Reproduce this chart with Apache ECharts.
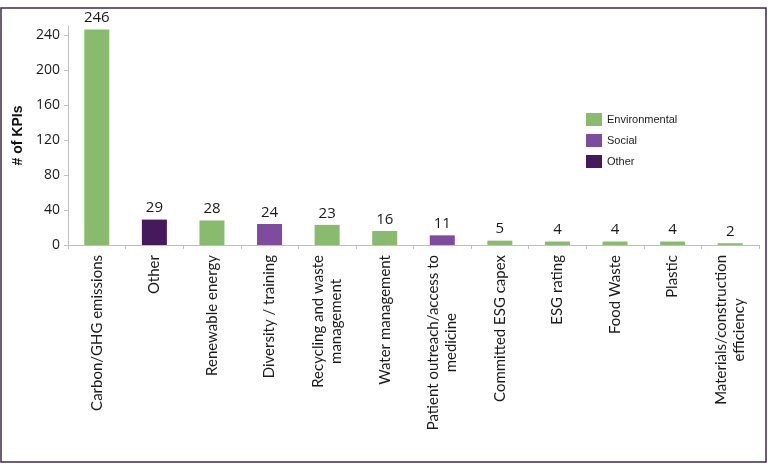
<!DOCTYPE html>
<html>
<head>
<meta charset="utf-8">
<script src="https://cdn.jsdelivr.net/npm/echarts@6/dist/echarts.min.js"></script>
<style>
html,body{margin:0;padding:0;background:#fff;}
#chart{width:768px;height:471px;}
</style>
</head>
<body>
<div id="chart"></div>
<script>
const categories = [
  'Carbon/GHG emissions', 'Other', 'Renewable energy', 'Diversity / training',
  'Recycling and waste\nmanagement', 'Water management',
  'Patient outreach/access to\nmedicine', 'Committed ESG capex', 'ESG rating',
  'Food Waste', 'Plastic', 'Materials/construction\nefficiency'
];
const environmental = [246, null, 28, null, 23, 16, null, 5, 4, 4, 4, 2];
const social        = [null, null, null, 24, null, null, 11, null, null, null, null, null];
const other         = [null, 29, null, null, null, null, null, null, null, null, null, null];
const yTicks = { min: 0, max: 250, interval: 40 };

const chart = echarts.init(document.getElementById('chart'));
const labelStyle = {
  show: true, position: 'top', distance: 4,
  color: '#1a1a1a', fontSize: 15, fontFamily: 'Open Sans'
};
function mkSeries(name, data, color) {
  return {
    name, type: 'bar', stack: 'all', data, barWidth: 25,
    itemStyle: { color },
    label: labelStyle
  };
}
chart.setOption({
  animation: false,
  backgroundColor: '#fff',
  grid: { left: 68, right: 9, top: 26, bottom: 226, containLabel: false },
  legend: {
    orient: 'vertical', left: 581, top: 108, itemGap: 8,
    itemWidth: 16, itemHeight: 13, icon: 'rect',
    textStyle: { fontFamily: 'Liberation Sans', fontSize: 11, color: '#222' },
    data: ['Environmental', 'Social', 'Other']
  },
  xAxis: {
    type: 'category', data: categories,
    axisLine: { lineStyle: { color: '#bfbfbf' } },
    axisTick: { show: true, length: 4, alignWithLabel: false, lineStyle: { color: '#bfbfbf' } },
    axisLabel: {
      interval: 0, rotate: 90, margin: 10,
      color: '#1a1a1a', fontFamily: 'Lato', fontSize: 15, lineHeight: 18,
      formatter: v => v.split('\n').map(s => '{c|' + s + '}').join('\n'),
      rich: { c: { align: 'center', fontFamily: 'Lato', fontSize: 15, lineHeight: 18, color: '#1a1a1a' } }
    }
  },
  yAxis: {
    type: 'value', min: yTicks.min, max: yTicks.max, interval: yTicks.interval,
    name: '# of KPIs', nameLocation: 'middle', nameGap: 42, nameRotate: 90,
    nameTextStyle: { fontFamily: 'Liberation Sans', fontWeight: 'bold', fontSize: 14, color: '#111' },
    axisLine: { show: true, lineStyle: { color: '#bfbfbf' } },
    axisTick: { show: true, length: 4, lineStyle: { color: '#bfbfbf' } },
    splitLine: { show: false },
    axisLabel: { showMaxLabel: false, color: '#1a1a1a', fontFamily: 'Open Sans', fontSize: 14, margin: 8 }
  },
  graphic: [{
    type: 'rect', z: 100, silent: true,
    shape: { x: 1, y: 8, width: 765, height: 454 },
    style: { fill: 'none', stroke: '#3b2a4f', lineWidth: 1.5 }
  }],
  series: [
    mkSeries('Environmental', environmental, '#88bb6e'),
    mkSeries('Social', social, '#7e4c9e'),
    mkSeries('Other', other, '#45195c')
  ]
});
</script>
</body>
</html>
